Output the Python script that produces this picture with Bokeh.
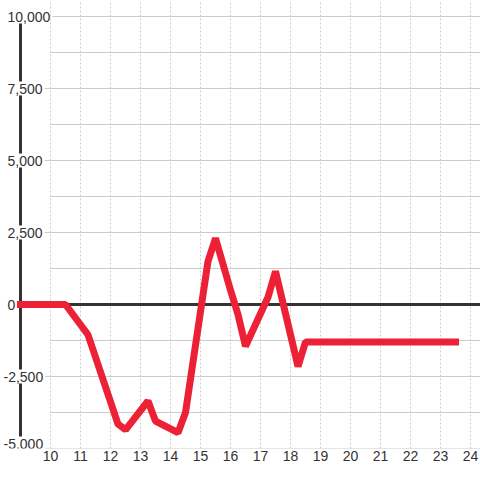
from bokeh.plotting import figure
from bokeh.models import Range1d, FixedTicker, ColumnDataSource
from bokeh.core.properties import value
from bokeh.embed import file_html
from bokeh.resources import INLINE

# ---- data ----
hours = [9, 10.5, 11.25, 12.25, 12.5, 13.25, 13.5, 14.25, 14.5, 15.25, 15.5,
         16.0, 16.25, 16.5, 17.25, 17.5, 18.25, 18.5, 23.5]
values = [0, 0, -1050, -4150, -4350, -3350, -4050, -4450, -3750, 1500, 2300,
          500, -350, -1450, 250, 1150, -2150, -1300, -1300]
x_ticks = list(range(10, 25))
y_ticks = [-5000, -2500, 0, 2500, 5000, 7500, 10000]
y_tick_labels = ["-5,000", "-2,500", "0", "2,500", "5,000", "7,500", "10,000"]
y_minor_ticks = [-3750, -1250, 1250, 3750, 6250, 8750]

# ---- layout ----
W, H = 480, 480
BOTTOM = 32
PX_PER_X = 30.0
PX_PER_Y = 432.0 / 15000.0
x_start = hours[0] - 20 / PX_PER_X
x_end = x_start + W / PX_PER_X
y_start = y_ticks[0]
y_end = y_start + (H - BOTTOM) / PX_PER_Y

TXT = "#333333"
GRID = "#cccccc"
DARK = "#333333"
RED = "#EC2136"
FONT = "Liberation Sans"

p = figure(width=W, height=H, x_range=Range1d(x_start, x_end),
           y_range=Range1d(y_start, y_end), output_backend="svg",
           toolbar_location=None, y_axis_location=None,
           min_border=0, min_border_left=0, min_border_right=0,
           min_border_top=0, min_border_bottom=BOTTOM)
p.outline_line_color = None
p.background_fill_color = "white"
p.border_fill_color = "white"

# x axis
p.xaxis.ticker = FixedTicker(ticks=x_ticks)
p.xaxis.axis_line_color = None
p.xaxis.major_tick_line_color = None
p.xaxis.minor_tick_line_color = None
p.xaxis.major_tick_out = 0
p.xaxis.major_label_standoff = 2
p.xaxis.major_label_text_font = FONT
p.xaxis.major_label_text_font_size = "14px"
p.xaxis.major_label_text_color = TXT

# vertical dotted grid
p.xgrid.ticker = FixedTicker(ticks=x_ticks)
p.xgrid.grid_line_color = GRID
p.xgrid.grid_line_dash = "2 2"
p.xgrid.grid_line_width = 1
p.ygrid.visible = False

# ---- y tick label geometry (screen px) ----
CHAR_W = {"-": 4.7, ",": 3.9}
def text_w(s):
    return sum(CHAR_W.get(c, 7.8) for c in s)

LEFT_PX = 7
AXIS_PX = (hours[0] - x_start) * PX_PER_X
x_off = [-4 if s.startswith("-") else 0 for s in y_tick_labels]
y_off = [-5 if v == min(y_ticks) else 0 for v in y_ticks]
label_right = [LEFT_PX + xo + text_w(s) for xo, s in zip(x_off, y_tick_labels)]

# horizontal major grid lines start right after their label
maj_ticks = [v for v in y_ticks if v != 0]
maj_x = [x_start + (r + 2) / PX_PER_X for v, r in zip(y_ticks, label_right) if v != 0]
p.ray(x=maj_x, y=maj_ticks, length=0, angle=0, line_color=GRID, line_width=1)

# minor horizontal grid lines start at first x tick
p.ray(x=[x_ticks[0]] * len(y_minor_ticks), y=y_minor_ticks, length=0, angle=0,
      line_color=GRID, line_width=1)

# zero line from the vertical axis rightwards
p.ray(x=[hours[0]], y=[0], length=0, angle=0, line_color=DARK, line_width=3)

# vertical axis line, interrupted where tick labels sit on it
GAP = 7 / PX_PER_Y
covers = [(v - yo / PX_PER_Y) for v, yo, r in zip(y_ticks, y_off, label_right)
          if r > AXIS_PX - 2]
covers.sort()
seg_y0, seg_y1 = [], []
for a, b in zip(covers[:-1], covers[1:]):
    seg_y0.append(a + GAP)
    seg_y1.append(b - GAP)
p.segment(x0=[hours[0]] * len(seg_y0), y0=seg_y0, x1=[hours[0]] * len(seg_y0),
          y1=seg_y1, line_color=DARK, line_width=3)

# y tick labels
src = ColumnDataSource(dict(x=[x_start + LEFT_PX / PX_PER_X] * len(y_ticks),
                            y=y_ticks, t=y_tick_labels, xo=x_off, yo=y_off))
p.text(x="x", y="y", text="t", source=src, x_offset="xo", y_offset="yo",
       text_font=value(FONT), text_font_size="14px", text_color=TXT,
       text_align="left", text_baseline="middle")

# data line
p.line(hours, values, line_width=7, line_color=RED, line_join="bevel",
       line_cap="square")

open("out.html", "w").write(file_html(p, INLINE))
